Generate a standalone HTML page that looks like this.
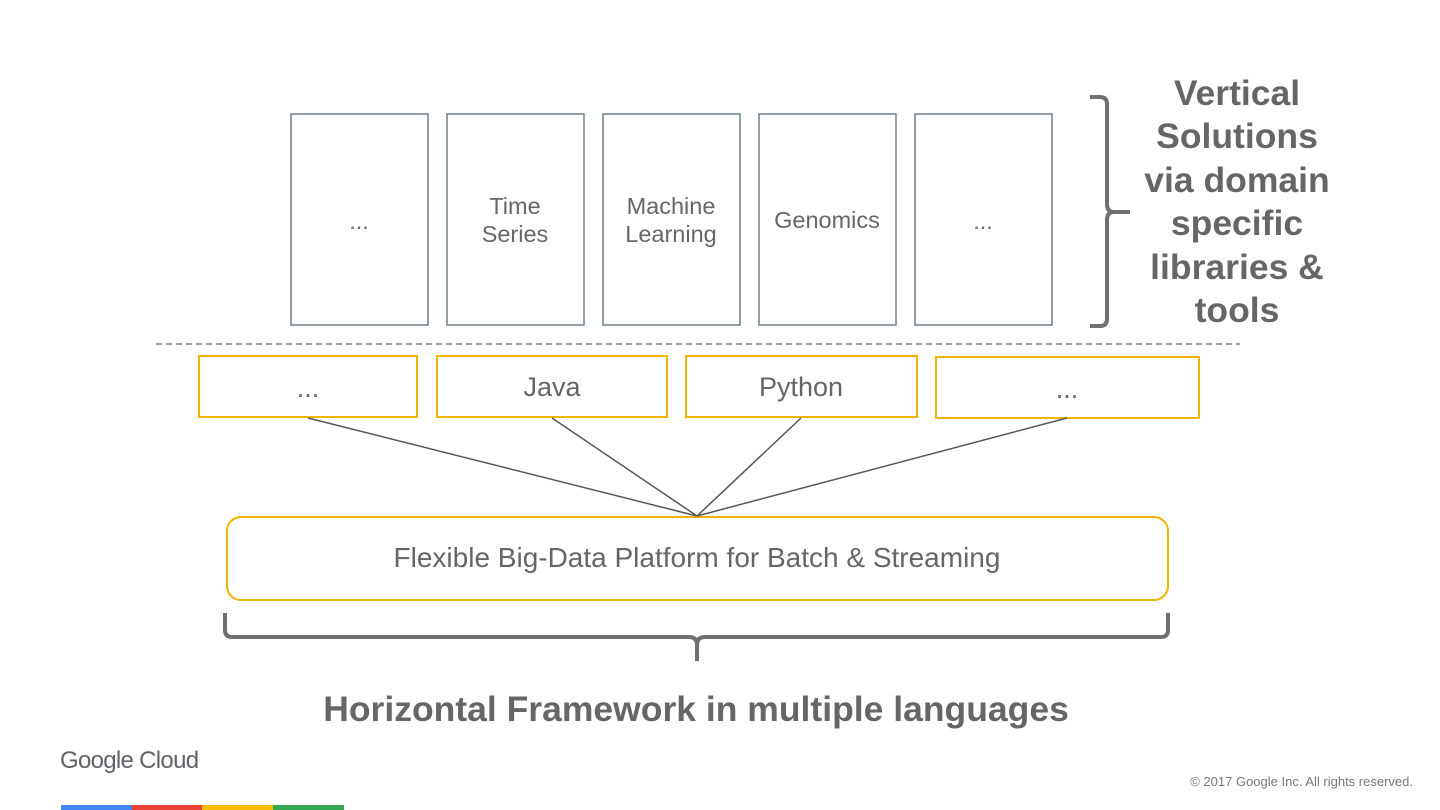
<!DOCTYPE html>
<html><head><meta charset="utf-8"><style>
html,body{margin:0;padding:0;background:#fff}
svg{display:block}
text{font-family:"Liberation Sans",Arial,sans-serif}
</style></head><body>
<svg width="1440" height="810" viewBox="0 0 1440 810" xmlns="http://www.w3.org/2000/svg">
<g fill="none" stroke="#6f7f8c" stroke-width="1.5">
<rect x="291" y="114" width="137" height="211"/>
<rect x="447" y="114" width="137" height="211"/>
<rect x="603" y="114" width="137" height="211"/>
<rect x="759" y="114" width="137" height="211"/>
<rect x="915" y="114" width="137" height="211"/>
</g>
<g font-size="23.5" fill="#666" text-anchor="middle">
<text x="359" y="229">...</text>
<text x="515" y="214">Time</text><text x="515" y="242">Series</text>
<text x="671" y="214">Machine</text><text x="671" y="242">Learning</text>
<text x="827" y="228">Genomics</text>
<text x="983" y="229">...</text>
</g>
<line x1="156" y1="344" x2="1240" y2="344" stroke="#666" stroke-width="1.2" stroke-dasharray="6,4"/>
<g fill="none" stroke="#f0b400" stroke-width="2">
<rect x="199" y="356" width="218" height="61"/>
<rect x="437" y="356" width="230" height="61"/>
<rect x="686" y="356" width="231" height="61"/>
<rect x="936" y="357" width="263" height="61"/>
<rect x="227" y="517" width="941" height="83" rx="14"/>
</g>
<g font-size="27" fill="#666" text-anchor="middle">
<text x="308" y="397">...</text>
<text x="552" y="396">Java</text>
<text x="801" y="396">Python</text>
<text x="1067" y="398">...</text>
<text x="697" y="567" font-size="28">Flexible Big-Data Platform for Batch &amp; Streaming</text>
</g>
<g stroke="#555" stroke-width="1.5">
<line x1="308" y1="418" x2="697" y2="516"/>
<line x1="552" y1="418" x2="697" y2="516"/>
<line x1="801" y1="418" x2="697" y2="516"/>
<line x1="1067" y1="418" x2="697" y2="516"/>
</g>
<g fill="none" stroke="#707070" stroke-width="4">
<path d="M1090 97 L1100 97 Q1107 97 1107 104 L1107 204 Q1107 212 1114 212 L1130 212 M1114 212 Q1107 212 1107 220 L1107 319 Q1107 326 1100 326 L1090 326"/>
<path d="M225 613 L225 630 Q225 637 232 637 L689 637 Q697 637 697 645 L697 661 M697 645 Q697 637 705 637 L1161 637 Q1168 637 1168 630 L1168 613"/>
</g>
<g font-size="35.5" font-weight="bold" fill="#666" text-anchor="middle">
<text x="1237" y="105">Vertical</text>
<text x="1237" y="148">Solutions</text>
<text x="1237" y="192">via domain</text>
<text x="1237" y="235">specific</text>
<text x="1237" y="279">libraries &amp;</text>
<text x="1237" y="322">tools</text>
<text x="696" y="721" font-size="35.5">Horizontal Framework in multiple languages</text>
</g>
<text x="60" y="768" font-size="24" fill="#5f6368" letter-spacing="-0.7">Google Cloud</text>
<text x="1413" y="786" font-size="13" fill="#777" text-anchor="end">© 2017 Google Inc. All rights reserved.</text>
<rect x="61" y="805" width="71" height="5" fill="#4285f4"/>
<rect x="132" y="805" width="70" height="5" fill="#ea4335"/>
<rect x="202" y="805" width="71" height="5" fill="#fbbc05"/>
<rect x="273" y="805" width="71" height="5" fill="#34a853"/>
</svg>
</body></html>
